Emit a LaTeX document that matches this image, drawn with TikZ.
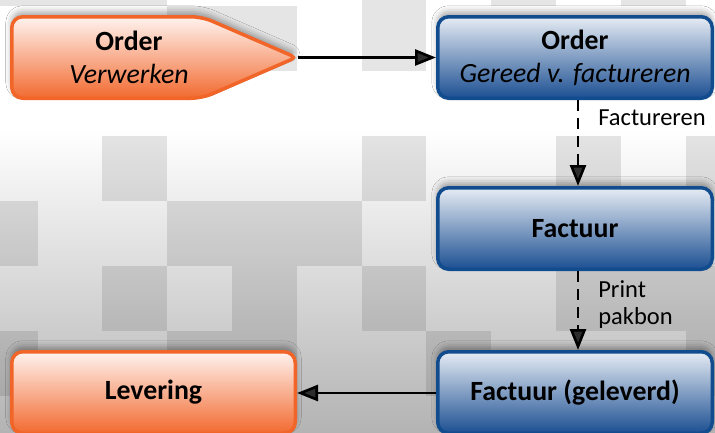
\documentclass[tikz,border=0pt]{standalone}
\usepackage{fontspec}
\setmainfont{Carlito}
\usetikzlibrary{arrows.meta,shadows.blur}
\definecolor{obrd}{HTML}{F26528}
\definecolor{otop}{HTML}{FFF3EF}
\definecolor{omid}{HTML}{F8B29C}
\definecolor{obot}{HTML}{F26A30}
\definecolor{bbrd}{HTML}{114C8E}
\definecolor{btop}{HTML}{E6ECF4}
\definecolor{bmid}{HTML}{9BB1CF}
\definecolor{bbot}{HTML}{1C4F92}
\definecolor{bgbot}{HTML}{B3B3B3}
\begin{document}
\begin{tikzpicture}[x=1pt,y=-1pt,
  shd/.style={blur shadow={shadow xshift=0pt, shadow yshift=5pt, shadow blur radius=6pt, shadow opacity=35}},
  boxbase/.style={line width=3.5pt, rounded corners=11pt, minimum width=283.5pt, minimum height=81.5pt, inner sep=0pt, align=center, shd},
  bluebox/.style={boxbase, draw=bbrd, top color=btop, middle color=bmid, bottom color=bbot},
  orangebox/.style={boxbase, draw=obrd, top color=otop, middle color=omid, bottom color=obot},
  ttl/.style={font=\fontsize{27.8}{33}\selectfont},
  lbl/.style={font=\fontsize{24.5}{27}\selectfont, inner sep=0pt, anchor=west, align=left},
  conn/.style={line width=2.6pt, -{Triangle[length=21pt,width=16pt]}},
  dconn/.style={conn, dash pattern=on 11pt off 7pt}
]
\useasboundingbox (0,0) rectangle (715,432);
\begin{scope}
\clip (0,0) rectangle (715,432);
% background
\fill[white] (0,0) rectangle (715,131);
\shade[top color=white, bottom color=bgbot] (0,130) rectangle (715,432);
\foreach \c/\r in {0/0,1/0,2/0,6/0,8/0,10/0,
                   3/1,4/1,6/1,
                   2/3,6/3,9/3,11/3,
                   0/4,3/4,4/4,5/4,
                   2/5,4/5,6/5,9/5,10/5,11/5,
                   0/6,3/6,4/6,7/6,11/6}
  \fill[black, opacity=0.1] ({-27.2+64.8*\c},{-58.6+64.9*\r}) rectangle ++(64.8,64.9);

% Order Verwerken (pentagon)
\filldraw[draw=obrd, line width=3.5pt, top color=otop, middle color=omid, bottom color=obot, shd, rounded corners=11pt]
  (11.75,16.75) -- (202,16.75) [rounded corners=5pt] -- (296,57.5) [rounded corners=11pt] -- (202,98.25) -- (11.75,98.25) -- cycle;
\node[ttl, align=center, inner sep=0pt] (ov) at (129,57.5) {\textbf{Order}\\\textit{Verwerken}};
\coordinate (ovtip) at (297.5,57.5);

\node[bluebox, minimum width=274.5pt, ttl] (og) at (575,57.5) {\textbf{Order}\\\textit{Gereed v. factureren}};
\node[bluebox, minimum width=274.5pt, ttl] (fa) at (575,228.5) {\textbf{Factuur}};
\node[bluebox, minimum width=274.5pt, ttl] (fg) at (575,392.5) {\textbf{Factuur (geleverd)}};
\node[orangebox, ttl] (lv) at (153.5,392.5) {\textbf{Levering}};

\draw[conn] (ovtip) -- (og.west);
\draw[dconn] ([xshift=3pt]og.south) -- node[lbl, pos=0.21, xshift=19pt] {Factureren} ([xshift=3pt]fa.north);
\draw[dconn] ([xshift=3pt]fa.south) -- node[lbl, pos=0.43, xshift=19pt] {Print\\pakbon} ([xshift=3pt]fg.north);
\draw[conn] (fg.west |- 0,393) -- (lv.east |- 0,393);
\end{scope}
\end{tikzpicture}
\end{document}
